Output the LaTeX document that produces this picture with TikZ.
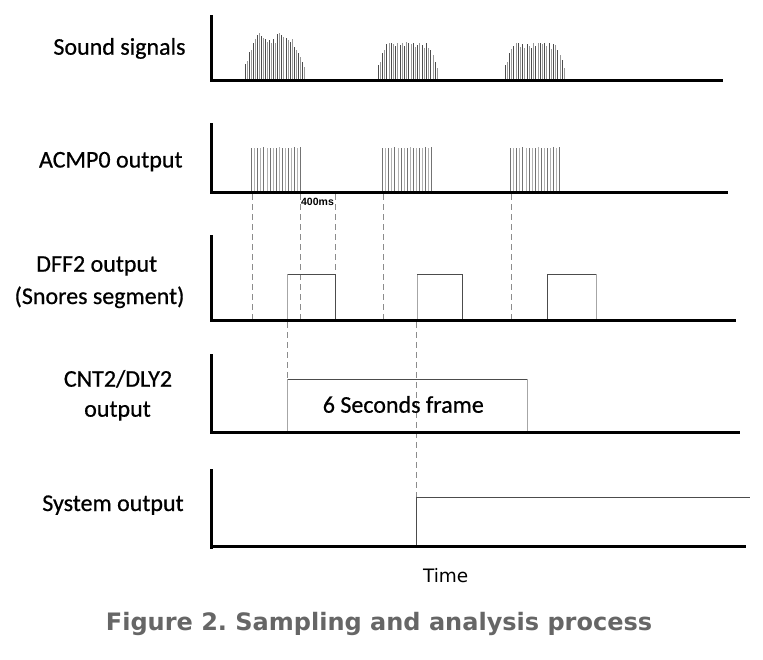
\documentclass[tikz,border=0pt]{standalone}
\usepackage{fontspec}
\setmainfont{Carlito}
\newfontfamily\labfont[FakeBold=0.6]{Carlito}
\newfontfamily\verdanafont{DejaVu Sans}
\newfontfamily\smallbold{Liberation Sans}
\frenchspacing
\begin{document}
\begin{tikzpicture}[x=1pt,y=-1pt,
  axis/.style={line width=3pt,black},
  sig/.style={line width=1pt,draw=black!70},
  sigl/.style={line width=1pt,draw=black!40},
  pulsed/.style={line width=0.9pt,draw=black!55},
  pulsel/.style={line width=0.9pt,draw=black!30},
  guide/.style={line width=1pt,draw=black!45,dash pattern=on 6pt off 4pt},
  lab/.style={font=\labfont\fontsize{24}{28}\selectfont,anchor=base,inner sep=0pt},
  wave/.style={line width=1pt,draw=black!70},
  wavel/.style={line width=1pt,draw=black!35}]
\useasboundingbox (0,0) rectangle (763,659);
\fill[white] (0,0) rectangle (763,659);

% ---------- labels ----------
\node[lab] (l1) at (119.5,54.7) {Sound signals};
\node[lab] (l2) at (110.8,167.5) {ACMP0 output};
\node[lab] (l3a) at (96.7,271.7) {DFF2 output};
\node[lab] (l3b) at (99.5,304) {(Snores segment)};
\node[lab] (l4a) at (118,386.7) {CNT2/DLY2};
\node[lab] (l4b) at (117.5,416.7) {output};
\node[lab] (l5) at (113,511) {System output};

% ---------- row 1: sound signals ----------
\foreach \t [count=\i from 0] in {64,61,52,50,43,39,35,33,36,38,39,42,40,43,39,43,34,33,35,37,38,40,42,39,47,50,53,57,62,67}{
  \ifodd\i \draw[sigl] ({245+\i*2.05},80) -- ({245+\i*2.05},\t);
  \else \draw[sig] ({245+\i*2.05},80) -- ({245+\i*2.05},\t); \fi}
\foreach \t [count=\i from 0] in {65,62,53,50,44,43,43,44,46,43,45,43,46,42,43,44,43,47,45,43,45,48,43,48,50,55,62,68}{
  \ifodd\i \draw[sigl] ({378+\i*2.2},80) -- ({378+\i*2.2},\t);
  \else \draw[sig] ({378+\i*2.2},80) -- ({378+\i*2.2},\t); \fi}
\foreach \t [count=\i from 0] in {65,62,53,49,46,43,43,47,44,48,44,46,48,43,46,43,43,44,43,46,43,49,44,45,50,55,60,68}{
  \ifodd\i \draw[sigl] ({505+\i*2.2},80) -- ({505+\i*2.2},\t);
  \else \draw[sig] ({505+\i*2.2},80) -- ({505+\i*2.2},\t); \fi}
\draw[axis] (211,15) -- (211,82);
\draw[axis] (210,80.5) -- (723,80.5);

% ---------- row 2: ACMP0 output ----------
\foreach \s in {251.7,382.7,510.7}{
  \foreach \t [count=\i from 0] in {148,148,147.5,148,147,148,148,147.5,148,147,148,147.5,148,148,147,148,147}{
    \ifodd\i \draw[pulsel] ({\s+\i*3.06},192) -- ({\s+\i*3.06},\t);
    \else \draw[pulsed] ({\s+\i*3.06},192) -- ({\s+\i*3.06},\t); \fi}}
\draw[axis] (211,123) -- (211,194);
\draw[axis] (210,192) -- (728,192);
\node[font=\smallbold\bfseries\fontsize{10.5}{11}\selectfont,inner sep=0pt] (ms) at (317.5,202) {400ms};

% ---------- guides between rows ----------
\coordinate (g1a) at (252,194); \coordinate (g1b) at (252,320);
\coordinate (g2a) at (300,194); \coordinate (g2b) at (300,320);
\coordinate (g3a) at (335,194); \coordinate (g3b) at (335,274.3);
\coordinate (g4a) at (383,194); \coordinate (g4b) at (383,320);
\coordinate (g5a) at (511.7,194); \coordinate (g5b) at (511.7,320);
\coordinate (g6a) at (287.7,322); \coordinate (g6b) at (287.7,379.3);
\coordinate (g7a) at (416.7,322); \coordinate (g7b) at (416.7,497);
\foreach \g in {1,...,7} \draw[guide] (g\g a) -- (g\g b);

% ---------- row 3: DFF2 output ----------
\draw[wavel] (287.7,320) -- (287.7,274.3);
\draw[wave] (287.7,274.3) -- (335,274.3) -- (335,320);
\draw[wavel] (417,320) -- (417,274.3);
\draw[wave] (417,274.3) -- (462.3,274.3) -- (462.3,320);
\draw[wave] (547.7,320) -- (547.7,274.3) -- (596.7,274.3);
\draw[wavel] (596.7,274.3) -- (596.7,320);
\draw[axis] (211,235) -- (211,322);
\draw[axis] (210,320.5) -- (735.7,320.5);

% ---------- row 4: CNT2/DLY2 output ----------
\draw[wavel] (287.7,432.7) -- (287.7,379.3);
\draw[wave] (287.7,379.3) -- (527,379.3);
\draw[wavel] (527,379.3) -- (527,432.7);
\node[lab] (frame) at (403.3,412.7) {6 Seconds frame};
\draw[axis] (211,354) -- (211,434);
\draw[axis] (210,432.7) -- (740,432.7);

% ---------- row 5: system output ----------
\draw[wave] (416.7,546.7) -- (416.7,497) -- (750,497);
\draw[axis] (211,469) -- (211,549);
\draw[axis] (210,546.7) -- (746,546.7);

% ---------- axis title and caption ----------
\node[font=\verdanafont\fontsize{18.5}{22}\selectfont,anchor=base,inner sep=0pt] (time) at (445.7,582.7) {Time};
\node[font=\verdanafont\bfseries\fontsize{24}{28}\selectfont,text=black!60,anchor=base,inner sep=0pt] (cap) at (379,630) {Figure 2. Sampling and analysis process};
\end{tikzpicture}
\end{document}
